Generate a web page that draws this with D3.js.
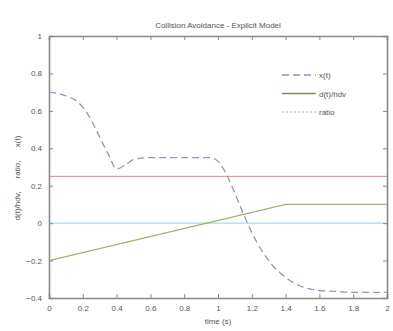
<!DOCTYPE html>
<html>
<head>
<meta charset="utf-8">
<script src="https://cdn.jsdelivr.net/npm/d3@7"></script>
<style>
  body { margin: 0; background: #fff; }
  text { font-family: "Liberation Sans", Arial, sans-serif; fill: #555; }
</style>
</head>
<body>
<div id="chart"></div>
<script>
// time samples and values
var tX = [0, 0.1, 0.15, 0.2, 0.25, 0.3, 0.35, 0.4, 0.45, 0.5, 0.6, 0.8, 0.95, 1.0, 1.05, 1.1, 1.15, 1.2, 1.3, 1.4, 1.5, 1.6, 1.7, 1.8, 1.9, 2.0];
var xVals = [0.70, 0.68, 0.66, 0.62, 0.55, 0.46, 0.37, 0.29, 0.31, 0.34, 0.35, 0.35, 0.35, 0.33, 0.26, 0.16, 0.05, -0.05, -0.20, -0.29, -0.34, -0.36, -0.365, -0.37, -0.37, -0.37];
var tD = [0, 1.4, 2];
var dVals = [-0.2, 0.1, 0.1];
var tConst = [0, 2];
var limitVals = [0.25, 0.25];
var ratioVals = [0, 0];

var xTicks = [0, 0.2, 0.4, 0.6, 0.8, 1, 1.2, 1.4, 1.6, 1.8, 2];
var yTicks = [-0.4, -0.2, 0, 0.2, 0.4, 0.6, 0.8, 1];
var legendNames = ["x(t)", "d(t)/hdv", "ratio"];

var width = 393, height = 331;
var margin = {top: 36, right: 6, bottom: 33, left: 49};

var svg = d3.select("#chart").append("svg")
  .attr("width", width)
  .attr("height", height);

var x = d3.scaleLinear().domain([0, 2]).range([margin.left, width - margin.right]);
var y = d3.scaleLinear().domain([-0.4, 1]).range([height - margin.bottom, margin.top]);

var fmt = function(d) { return d3.format("")(Math.round(d * 10) / 10); };

// lines
var line = d3.line().x(function(d) { return x(d[0]); }).y(function(d) { return y(d[1]); });
var smooth = d3.line().x(function(d) { return x(d[0]); }).y(function(d) { return y(d[1]); }).curve(d3.curveMonotoneX);

svg.append("path")
  .datum(tConst.map(function(t, i) { return [t, limitVals[i]]; }))
  .attr("d", line).attr("fill", "none").attr("stroke", "#e58a8a").attr("stroke-width", 1);

svg.append("path")
  .datum(tConst.map(function(t, i) { return [t, ratioVals[i]]; }))
  .attr("d", line).attr("fill", "none").attr("stroke", "#a6dbe8").attr("stroke-width", 1.2);

svg.append("path")
  .datum(tD.map(function(t, i) { return [t, dVals[i]]; }))
  .attr("d", line).attr("fill", "none").attr("stroke", "#a3b26e").attr("stroke-width", 1.2);

svg.append("path")
  .datum(tX.map(function(t, i) { return [t, xVals[i]]; }))
  .attr("d", smooth).attr("fill", "none").attr("stroke", "#9494b8").attr("stroke-width", 1.3)
  .attr("stroke-dasharray", "7,4");

// axes, MATLAB style box with inward ticks
var tl = 4;
svg.append("g").attr("transform", "translate(0," + y(-0.4) + ")")
  .call(d3.axisBottom(x).tickValues(xTicks).tickSize(-tl).tickPadding(7).tickFormat(fmt));
svg.append("g").attr("transform", "translate(0," + y(1) + ")")
  .call(d3.axisTop(x).tickValues(xTicks).tickSize(-tl).tickFormat(""));
svg.append("g").attr("transform", "translate(" + x(0) + ",0)")
  .call(d3.axisLeft(y).tickValues(yTicks).tickSize(-tl).tickPadding(7).tickFormat(fmt));
svg.append("g").attr("transform", "translate(" + x(2) + ",0)")
  .call(d3.axisRight(y).tickValues(yTicks).tickSize(-tl).tickFormat(""));

svg.selectAll(".domain").attr("stroke", "#8a8a8a").attr("stroke-width", 1.6);
svg.selectAll(".tick line").attr("stroke", "#8a8a8a");
svg.selectAll(".tick text").style("font-size", "8px").attr("fill", "#555");

// title and labels
svg.append("text").attr("x", 218).attr("y", 28).attr("text-anchor", "middle")
  .style("font-size", "8px").text("Collision Avoidance - Explicit Model");
svg.append("text").attr("x", 218).attr("y", 324).attr("text-anchor", "middle")
  .style("font-size", "8px").text("time (s)");
svg.append("text").attr("transform", "translate(20,178) rotate(-90)")
  .attr("text-anchor", "middle").style("font-size", "8px").style("white-space", "pre")
  .text("d(t)/hdv,      ratio,      x(t)");

// legend
var legendStyles = [
  {stroke: "#9494b8", dash: "7,4"},
  {stroke: "#7f8f5a", dash: null},
  {stroke: "#a6dbe8", dash: "2,2"}
];
var lg = svg.append("g").attr("transform", "translate(282,75)");
legendNames.forEach(function(name, i) {
  var row = lg.append("g").attr("transform", "translate(0," + (i * 18.5) + ")");
  row.append("line").attr("x1", 0).attr("x2", 34).attr("y1", 0).attr("y2", 0)
    .attr("stroke", legendStyles[i].stroke).attr("stroke-width", 1.3)
    .attr("stroke-dasharray", legendStyles[i].dash);
  row.append("text").attr("x", 37).attr("y", 3).style("font-size", "8px").text(name);
});
</script>
</body>
</html>
